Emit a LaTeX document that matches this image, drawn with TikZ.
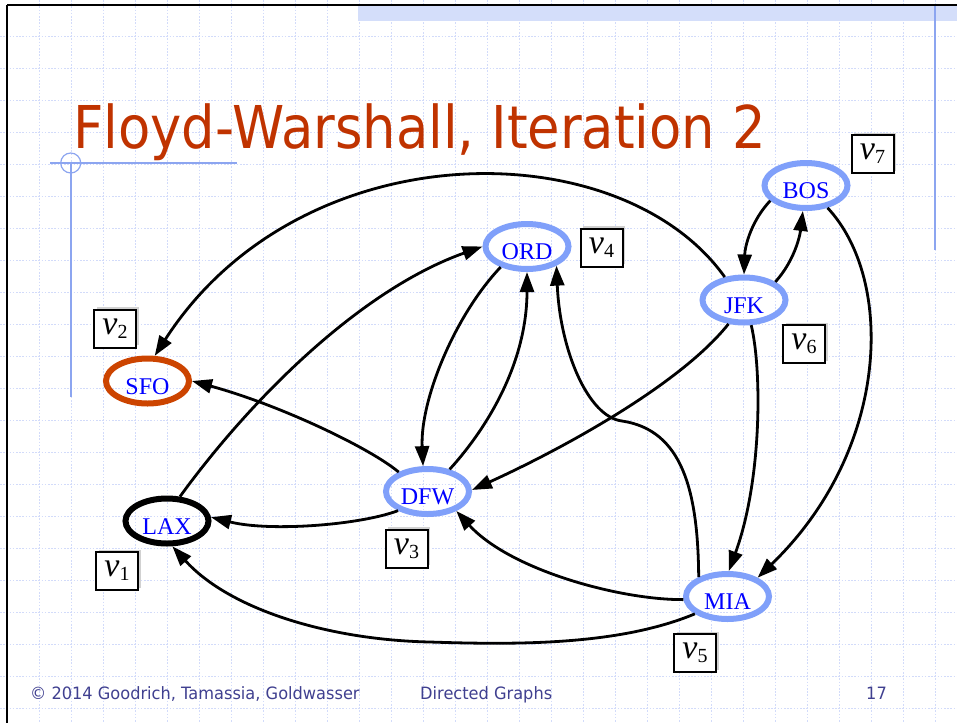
\documentclass[tikz,border=0pt]{standalone}
\usepackage{graphicx}
\usepackage{fontspec}
\setmainfont{Liberation Serif}
\newfontfamily\slidefont{DejaVu Sans}
\usetikzlibrary{arrows.meta,shapes.geometric,shadows}

\definecolor{titlered}{RGB}{192,51,0}
\definecolor{gridblue}{RGB}{210,219,250}
\definecolor{rulerblue}{RGB}{140,165,240}
\definecolor{bandblue}{RGB}{212,222,250}
\definecolor{nodeblue}{RGB}{128,160,250}
\definecolor{sfored}{RGB}{204,68,0}
\definecolor{footblue}{RGB}{64,64,144}

% vertex name: italic v with a lowered index
\newcommand\vname[1]{{\fontsize{34}{34}\selectfont\itshape v}\raisebox{-4pt}{\fontsize{20}{20}\selectfont #1}}

\begin{document}
\begin{tikzpicture}[x=1pt,y=-1pt,
  gridline/.style={gridblue, line width=0.8pt, dash pattern=on 1.6pt off 1.6pt},
  airport/.style={ellipse, draw=nodeblue, line width=6pt, minimum width=83pt,
    minimum height=45pt, inner sep=0pt, text=blue,
    font=\fontsize{24}{24}\selectfont, text height=26pt, text depth=0pt},
  vlabel/.style={draw, line width=2pt, fill=white, minimum width=42pt,
    minimum height=38pt, inner sep=0pt,
    drop shadow={shadow xshift=2.5pt, shadow yshift=2.5pt, fill=black!18, opacity=1}},
  edge/.style={line width=2.8pt, -{Triangle[length=20pt,width=14pt]}},
  foot/.style={anchor=base west, inner sep=0pt, text=footblue},
]
% slide background and grid
\fill[white] (0,0) rectangle (957,723);
\useasboundingbox (0,0) rectangle (957,723);
\foreach \k in {0,...,28} \draw[gridline] (39.3+32*\k,0) -- (39.3+32*\k,723);
\foreach \k in {0,...,21} \draw[gridline] (0,36+32*\k) -- (957,36+32*\k);

% slide frame, header band and rulers
\fill[bandblue] (358,6.2) rectangle (957,20.5);
\draw[line width=2.5pt] (7,5) -- (957,5);
\draw[line width=2.5pt] (7,5) -- (7,723);
\draw[rulerblue, line width=2pt] (934.5,6) -- (934.5,250);
\draw[rulerblue, line width=1.2pt] (50,163) -- (237,163);
\draw[rulerblue, line width=1.2pt] (71,163) -- (71,397);
\draw[rulerblue, line width=1.2pt] (70.7,163) circle[radius=10];

% title
\node[anchor=base west, inner sep=0pt, text=titlered] (title) at (73,148)
  {\scalebox{0.895}[1]{\slidefont\fontsize{59}{59}\selectfont Floyd-Warshall, Iteration 2}};

% airports
\node[airport] (bos) at (806,185.5) {BOS};
\node[airport] (jfk) at (744,300) {JFK};
\node[airport] (ord) at (527,246.5) {ORD};
\node[airport, draw=sfored] (sfo) at (147.5,381) {SFO};
\node[airport, draw=black] (lax) at (167,521) {LAX};
\node[airport] (dfw) at (427.5,491.5) {DFW};
\node[airport] (mia) at (727.5,596.5) {MIA};

% vertex numbers
\node[vlabel] (n7) at (872.5,154) {\vname{7}};
\node[vlabel] (n4) at (601.5,247.5) {\vname{4}};
\node[vlabel] (n2) at (115,328.5) {\vname{2}};
\node[vlabel] (n6) at (804,344) {\vname{6}};
\node[vlabel] (n3) at (406.5,548.5) {\vname{3}};
\node[vlabel] (n1) at (117,571) {\vname{1}};
\node[vlabel] (n5) at (695,653) {\vname{5}};

% flights
\draw[edge] (jfk.130) .. controls (620,130) and (300,130) .. (sfo.74);
\draw[edge] (lax.62) .. controls (250,400) and (360,290) .. (ord.180);
\draw[edge] (ord.218) .. controls (455,315) and (420,400) .. (dfw.100);
\draw[edge] (dfw.45) .. controls (490,425) and (527,360) .. (ord.270);
\draw[edge] (mia.146) .. controls (698,490) and (682,430) .. (622,421)
            .. controls (588,417) and (560,350) .. (ord.327);
\draw[edge] (jfk.237) .. controls (680,385) and (560,450) .. (dfw.2);
\draw[edge] (dfw.146) .. controls (370,448) and (280,405) .. (sfo.0);
\draw[edge] (dfw.213) .. controls (360,525) and (270,532) .. (lax.5);
\draw[edge] (mia.184) .. controls (620,600) and (510,570) .. (dfw.326);
\draw[edge] (mia.208) .. controls (620,645) and (520,645) .. (430,642)
            .. controls (330,640) and (230,610) .. (lax.282);
\draw[edge] (bos.203) .. controls (752,220) and (745,245) .. (jfk.90);
\draw[edge] (jfk.30) .. controls (795,260) and (800,235) .. (bos.263);
\draw[edge] (jfk.286) .. controls (762,370) and (762,480) .. (mia.87);
\draw[edge] (bos.314) .. controls (895,280) and (890,450) .. (mia.32);

% footer
\node[foot] (credit) at (30,699)
  {\scalebox{0.953}[1]{\slidefont\fontsize{17}{17}\selectfont \textcopyright{} 2014 Goodrich, Tamassia, Goldwasser}};
\node[foot] (topic) at (420,699)
  {\scalebox{0.953}[1]{\slidefont\fontsize{17}{17}\selectfont Directed Graphs}};
\node[foot] (page) at (866,699)
  {\scalebox{0.953}[1]{\slidefont\fontsize{17}{17}\selectfont 17}};
\end{tikzpicture}
\end{document}
